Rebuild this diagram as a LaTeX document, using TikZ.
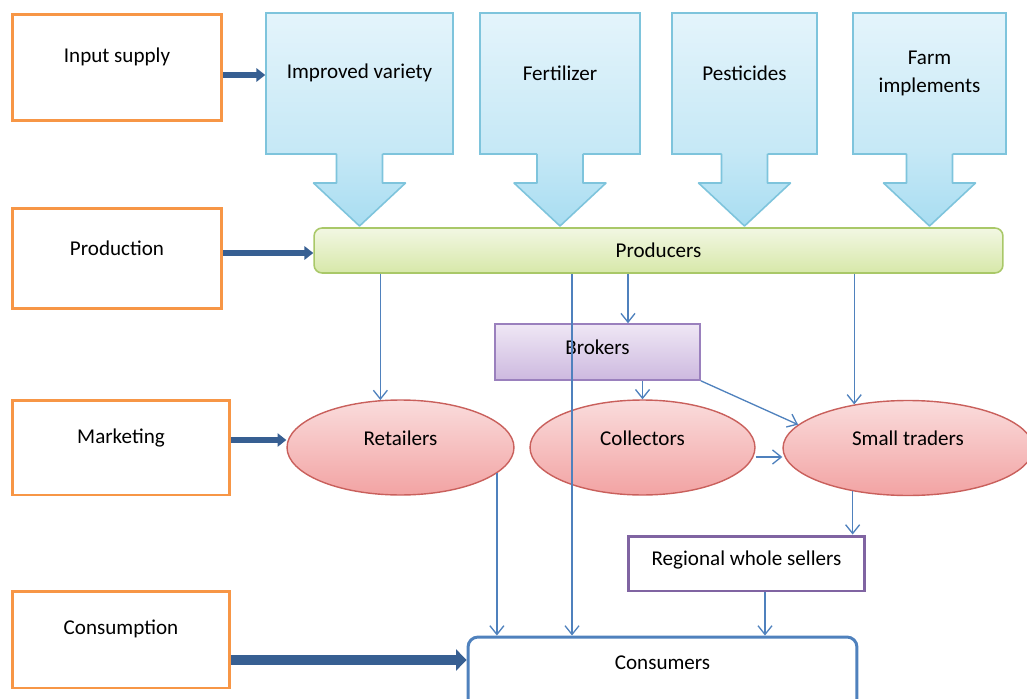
\documentclass[tikz,border=0pt]{standalone}
\usepackage{fontspec}
\setmainfont{Carlito}
\usetikzlibrary{arrows.meta,shapes.geometric}

\definecolor{stageorange}{HTML}{F79646}
\definecolor{stageblue}{HTML}{375F92}
\definecolor{calloutline}{HTML}{7EC4DC}
\definecolor{callouttop}{HTML}{E4F4FB}
\definecolor{calloutmid}{HTML}{C5E8F6}
\definecolor{calloutlow}{HTML}{A8DDF1}
\definecolor{prodtop}{HTML}{F2F7E3}
\definecolor{prodbot}{HTML}{D7E8A9}
\definecolor{prodline}{HTML}{A9C868}
\definecolor{brokertop}{HTML}{EFE7F5}
\definecolor{brokerbot}{HTML}{CDB9DF}
\definecolor{brokerline}{HTML}{9A80BD}
\definecolor{pinktop}{HTML}{FADCDC}
\definecolor{pinkbot}{HTML}{F2A3A3}
\definecolor{pinkline}{HTML}{C9605C}
\definecolor{sellerline}{HTML}{8064A2}
\definecolor{flowblue}{HTML}{4F81BD}

% text drawn higher inside its node, node size unchanged
\newcommand{\liftlabel}[2]{\raisebox{#1}[\height][\depth]{#2}}

% shaft and head below an input box, #1 = centre x
\newcommand{\dropshaft}[1]{%
  \shade[top color=calloutmid, bottom color=calloutlow]
    (#1-23,152.5) -- (#1-23,183) -- (#1-46,183) -- (#1,226) -- (#1+46,183) -- (#1+23,183) -- (#1+23,152.5) -- cycle;
  \draw[calloutline, line width=0.9pt, line join=round]
    (#1-23,154) -- (#1-23,183) -- (#1-46,183) -- (#1,226) -- (#1+46,183) -- (#1+23,183) -- (#1+23,154);}

\tikzset{
  stagebox/.style={draw=stageorange, line width=1.7pt, minimum width=4.2cm, inner sep=0pt},
  supplybox/.style={draw=calloutline, line width=0.9pt, top color=callouttop, bottom color=calloutmid,
    minimum height=2.82cm, inner sep=0pt, align=center},
  actor/.style={ellipse, draw=pinkline, line width=0.8pt, top color=pinktop, bottom color=pinkbot,
    minimum height=1.9cm, inner sep=0pt},
  stagelink/.style={stageblue, line width=3.4pt, -{Triangle[length=5pt,width=7.5pt]}},
  flow/.style={flowblue, line width=0.75pt, -{Straight Barb[length=5pt,width=8pt]}}
}

\begin{document}
\begin{tikzpicture}[x=0.02cm, y=-0.02cm, font=\fontsize{12}{16}\selectfont]
\useasboundingbox (0,0) rectangle (1027,699);

% Stages on the left
\node[stagebox, minimum height=2.14cm] (input) at (117,67.5) {\liftlabel{0.21cm}{Input supply}};
\node[stagebox, minimum height=2.02cm] (production) at (117,258.5) {\liftlabel{0.21cm}{Production}};
\node[stagebox, minimum width=4.36cm, minimum height=1.9cm] (marketing) at (121,447.5) {\liftlabel{0.19cm}{Marketing}};
\node[stagebox, minimum width=4.36cm, minimum height=1.94cm] (consumption) at (121,639.5) {\liftlabel{0.21cm}{Consumption}};

% Inputs
\node[supplybox, minimum width=3.74cm] (variety) at (359.5,83.5) {\liftlabel{0.21cm}{Improved variety}};
\node[supplybox, minimum width=3.2cm] (fertilizer) at (560,83.5) {\liftlabel{0.21cm}{Fertilizer}};
\node[supplybox, minimum width=2.9cm] (pesticides) at (744.5,83.5) {\liftlabel{0.21cm}{Pesticides}};
\node[supplybox, minimum width=3.06cm] (implements) at (929.5,83.5)
  {\liftlabel{0.21cm}{\begin{tabular}{@{}c@{}}Farm\\implements\end{tabular}}};
\dropshaft{359.5}
\dropshaft{560}
\dropshaft{744.5}
\dropshaft{929.5}

% Chain actors
\node[draw=prodline, line width=0.9pt, rounded corners=0.16cm, top color=prodtop, bottom color=prodbot,
  minimum width=13.78cm, minimum height=0.9cm, inner sep=0pt] (producers) at (658.5,250.5) {Producers};
\node[draw=brokerline, line width=0.9pt, top color=brokertop, bottom color=brokerbot,
  minimum width=4.1cm, minimum height=1.12cm, inner sep=0pt] (brokers) at (597.5,352) {\liftlabel{0.1cm}{Brokers}};
\node[actor, minimum width=4.54cm] (retailers) at (400.5,447.5) {\liftlabel{0.19cm}{Retailers}};
\node[actor, minimum width=4.5cm] (collectors) at (642.5,447.5) {\liftlabel{0.19cm}{Collectors}};
\node[actor, minimum width=5cm] (smalltraders) at (908,448) {\liftlabel{0.2cm}{Small traders}};
\node[draw=sellerline, line width=1.7pt, minimum width=4.74cm, minimum height=1.1cm, inner sep=0pt]
  (regional) at (746.5,563.5) {\liftlabel{0.07cm}{Regional whole sellers}};
\node[draw=flowblue, line width=1.7pt, rounded corners=0.2cm, minimum width=7.78cm, minimum height=1.6cm,
  inner sep=0pt] (consumers) at (662.5,677) {\liftlabel{0.28cm}{Consumers}};

% Stage arrows
\draw[stagelink] ([yshift=-0.15cm]input.east) -- ([yshift=-0.15cm]input.east -| variety.west);
\draw[stagelink] ([yshift=0.11cm]production.east) -- ([yshift=0.11cm]production.east -| producers.west);
\draw[stagelink] ([yshift=0.15cm]marketing.east) -- ([yshift=0.15cm]marketing.east -| retailers.west);
\draw[stagelink, line width=5.7pt, -{Triangle[length=6pt,width=12pt]}]
  ([yshift=-0.41cm]consumption.east) -- ([yshift=-0.41cm]consumption.east -| consumers.west);

% Flows
\draw[flow] (retailers.113.7 |- producers.south) -- (retailers.113.7);
\draw[flow] ([xshift=-1.81cm]consumers.north |- producers.south) -- ([xshift=-1.81cm]consumers.north);
\draw[flow] ([xshift=0.61cm]brokers.north |- producers.south) -- ([xshift=0.61cm]brokers.north);
\draw[flow] (smalltraders.141.5 |- producers.south) -- (smalltraders.141.5);
\draw[flow] (brokers.south -| collectors.north) -- (collectors.north);
\draw[flow] (brokers.south east) -- (smalltraders.168);
\draw[flow] ([yshift=-0.19cm]collectors.east) -- ([yshift=-0.19cm]collectors.east -| smalltraders.west);
\draw[flow] (smalltraders.218.5) -- (smalltraders.218.5 |- regional.north);
\draw[flow] (retailers.-15) -- (retailers.-15 |- consumers.north);
\draw[flow] ([xshift=0.37cm]regional.south) -- ([xshift=0.37cm]regional.south |- consumers.north);

\end{tikzpicture}
\end{document}
